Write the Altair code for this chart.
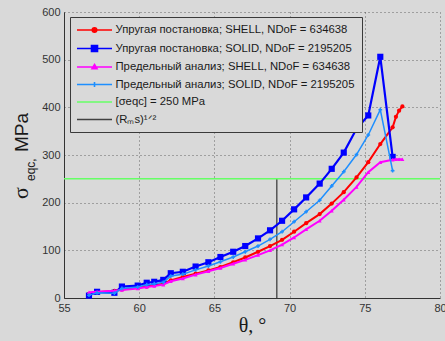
import altair as alt
import pandas as pd

# --- data -------------------------------------------------------------------
theta_common = [56.66, 57.2, 58.35, 58.85, 59.9, 60.5, 61.0, 61.6, 62.1, 62.9,
                63.75, 64.6, 65.4, 66.25, 67.05, 67.9, 68.7, 69.5, 70.3, 71.1,
                72.0, 72.8, 73.6, 74.45, 75.23, 76.03, 76.85]
theta_shell = theta_common + [77.07, 77.28, 77.5]

# elastic analysis, SOLID model
solid_elastic = [5, 13, 11, 24, 26, 32, 34, 38, 52, 55,
                 66, 75, 86, 97, 109, 125, 142, 162, 186, 211,
                 240, 271, 305, 355, 383, 506, 296]
# limit analysis, SOLID model
solid_limit = [6, 11, 10, 20, 23, 28, 30, 33, 46, 50,
               59, 67, 76, 86, 97, 109, 123, 139, 160, 181,
               205, 235, 265, 301, 342, 395, 267]
# elastic analysis, SHELL model
shell_elastic = [8, 12, 15, 18, 22, 24, 27, 30, 37, 44,
                 51, 58, 65, 75, 85, 97, 109, 122, 139, 157,
                 176, 198, 222, 253, 285, 323, 358, 380, 393, 402]
# limit analysis, SHELL model
shell_limit = [12, 13, 15, 17, 20, 23, 25, 28, 35, 41,
               49, 56, 63, 72, 80, 90, 100, 112, 127, 144,
               162, 183, 206, 233, 264, 285, 290, 291, 291, 291]

allowable_stress = 250.0       # [sigma_eqc]
rms_theta = 69.15              # angle of the (Rm s)^1/2 marker

labels = [
    "Упругая постановка; SHELL, NDoF = 634638",
    "Упругая постановка; SOLID, NDoF = 2195205",
    "Предельный анализ; SHELL, NDoF = 634638",
    "Предельный анализ; SOLID, NDoF = 2195205",
    "[σeqc] = 250 MPa",
    "(Rₘs)¹ᐟ²",
]
colors = ["#ff0000", "#0000ff", "#ff00ff", "#1e8fff", "#66ff66", "#404040"]

BG = "#d9d9d9"
SANS = "Liberation Sans"
SERIF = "Liberation Serif"

X_SCALE = alt.Scale(domain=[55, 80], nice=False, zero=False)
Y_SCALE = alt.Scale(domain=[0, 600], nice=False)


def frame(theta, values):
    return pd.DataFrame({"theta": theta, "sigma": values})


def series(theta, values, color, width, shape, size):
    base = alt.Chart(frame(theta, values)).encode(
        x=alt.X("theta:Q", scale=X_SCALE),
        y=alt.Y("sigma:Q", scale=Y_SCALE),
    )
    line = base.mark_line(color=color, strokeWidth=width)
    pts = base.mark_point(color=color, filled=True, opacity=1, shape=shape, size=size)
    return line + pts


x_axis = alt.Axis(values=[55, 60, 65, 70, 75, 80], title="θ, °", labelFlush=False)
y_axis = alt.Axis(values=[0, 100, 200, 300, 400, 500, 600], title=None)

# allowable stress level
green = alt.Chart(pd.DataFrame({"sigma": [allowable_stress]})).mark_rule(
    color=colors[4], strokeWidth=1.5
).encode(y=alt.Y("sigma:Q", scale=Y_SCALE, axis=y_axis))

# (Rm s)^1/2 marker
rms = alt.Chart(pd.DataFrame({"theta": [rms_theta], "lo": [0.0], "hi": [allowable_stress]})).mark_rule(
    color=colors[5], strokeWidth=1.3
).encode(
    x=alt.X("theta:Q", scale=X_SCALE, axis=x_axis),
    y=alt.Y("lo:Q", scale=Y_SCALE),
    y2="hi:Q",
)

red = series(theta_shell, shell_elastic, colors[0], 2, "circle", 18)
blue = series(theta_common, solid_elastic, colors[1], 2.2, "square", 38)
magenta = series(theta_shell, shell_limit, colors[2], 2, "triangle-up", 16)
lblue = series(theta_common, solid_limit, colors[3], 1.5, "cross", 14)

# legend symbols: a line sample with the series marker in the middle
paths = [
    "M-3.5,0H3.5M0.45,0A0.45,0.45,0,1,1,-0.45,0A0.45,0.45,0,1,1,0.45,0Z",
    "M-3.5,0H3.5M-0.6,-0.6H0.6V0.6H-0.6Z",
    "M-3.5,0H3.5M0,-0.5L0.5,0.35H-0.5Z",
    "M-3.5,0H3.5M0,-0.5V0.5M-0.5,0H0.5",
    "M-3.5,0H3.5",
    "M-3.5,0H3.5",
]
legend = alt.Legend(
    title=None, orient="none", legendX=6, legendY=5, padding=7,
    symbolSize=100, symbolOffset=11.5, labelOffset=15, symbolStrokeWidth=1.6,
    labelFont=SANS, labelFontSize=11.3, labelColor="#1a1a1a", labelLimit=400,
    rowPadding=5.5, strokeColor="#3a3a3a", fillColor=BG,
)
legend_layer = alt.Chart(pd.DataFrame({"series": labels})).mark_point(
    filled=True, opacity=1
).encode(
    shape=alt.Shape("series:N", scale=alt.Scale(domain=labels, range=paths), legend=legend, sort=labels),
    fill=alt.Fill("series:N", scale=alt.Scale(domain=labels, range=colors), legend=legend, sort=labels),
    stroke=alt.Stroke("series:N", scale=alt.Scale(domain=labels, range=colors), legend=legend, sort=labels),
).transform_filter("false")

# y axis title with subscript
ytitle_df = pd.DataFrame({"a": ["σ"], "b": ["eqc,"], "c": ["MPa"]})
yt_main = alt.Chart(ytitle_df).mark_text(
    angle=270, align="left", baseline="alphabetic", font=SERIF, fontSize=22, color="#1a1a1a"
).encode(text="a:N", x=alt.value(-36), y=alt.value(187))
yt_sub = alt.Chart(ytitle_df).mark_text(
    angle=270, align="left", baseline="alphabetic", font=SANS, fontSize=12, color="#1a1a1a"
).encode(text="b:N", x=alt.value(-29), y=alt.value(169))
yt_unit = alt.Chart(ytitle_df).mark_text(
    angle=270, align="left", baseline="alphabetic", font=SANS, fontSize=19, color="#1a1a1a"
).encode(text="c:N", x=alt.value(-36), y=alt.value(140))

chart = alt.layer(
    rms, green, red, blue, magenta, lblue, legend_layer, yt_main, yt_sub, yt_unit
).properties(
    width=376, height=286,
    autosize=alt.AutoSizeParams(type="none"),
    padding={"left": 64, "top": 12, "right": 5, "bottom": 43},
    background=BG,
).configure_view(
    fill=BG, strokeWidth=0
).configure_axis(
    grid=True, gridColor="#333333", gridDash=[1, 3], gridOpacity=0.7, gridWidth=1,
    domainColor="#333333", domainWidth=1, ticks=False,
    labelFont=SANS, labelFontSize=11, labelColor="#333333", labelPadding=4,
    titleFont=SERIF, titleFontSize=20, titleFontWeight="normal", titleColor="#1a1a1a",
).configure_axisX(titlePadding=2)

chart.save("out.html", embed_options={"renderer": "svg", "actions": False})
